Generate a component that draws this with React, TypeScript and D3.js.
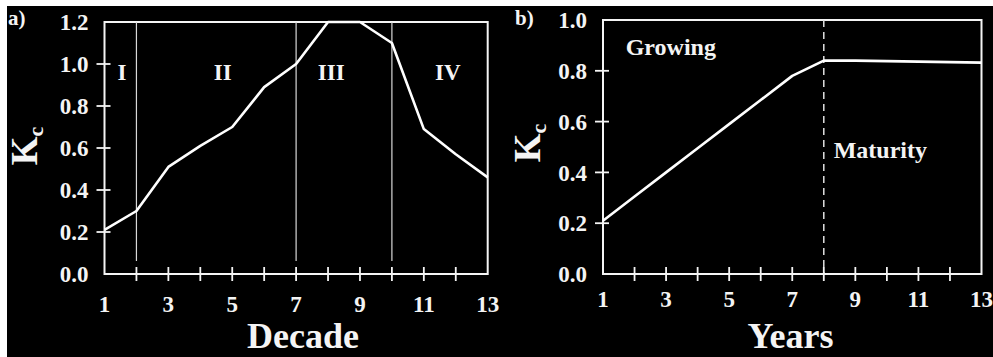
import React from "react";
import * as d3 from "d3";

const decades = [1, 2, 3, 4, 5, 6, 7, 8, 9, 10, 11, 12, 13];
const kcDecade = [0.21, 0.3, 0.51, 0.61, 0.7, 0.89, 1.0, 1.2, 1.2, 1.1, 0.69, 0.57, 0.46];
const stageBounds = [2, 7, 10];
const stageLabels = ["I", "II", "III", "IV"];
const stageLabelPos = [1.55, 4.7, 8.1, 11.75];

const years = [1, 2, 3, 4, 5, 6, 7, 8, 9, 10, 11, 12, 13];
const kcYears = [0.21, 0.305, 0.4, 0.495, 0.59, 0.685, 0.78, 0.84, 0.84, 0.838, 0.836, 0.834, 0.832];
const maturityStart = 8;

const xTickLabels = [1, 3, 5, 7, 9, 11, 13];
const yTicksA = [0, 0.2, 0.4, 0.6, 0.8, 1.0, 1.2];
const yTicksB = [0, 0.2, 0.4, 0.6, 0.8, 1.0];

const FONT = "'Liberation Serif', 'Times New Roman', serif";
const FG = "#f4f4f4";

function Panel({
  xs, ys, xRange, yDomain, yRange, yTicks, xLabel, xLabelPos, kPos, tag, tagPos, xLabelBaseline, children,
}: any) {
  const x = d3.scaleLinear().domain([1, 13]).range(xRange);
  const y = d3.scaleLinear().domain(yDomain).range(yRange);
  const line = d3.line<number>().x((_, i) => x(xs[i])).y((d) => y(d));
  const [x0, x1] = xRange;
  const [yb, yt] = yRange;
  const minorX = d3.range(2, 13);
  return (
    <g>
      <rect x={x0} y={yt} width={x1 - x0} height={yb - yt} fill="none" stroke={FG} strokeWidth={2} />
      {children && children(x, y)}
      {minorX.map((v) => (
        <line key={"xt" + v} x1={x(v)} x2={x(v)} y1={yb - 7} y2={yb + 7} stroke={FG} strokeWidth={1.8} />
      ))}
      {yTicks.filter((v: number) => v > 0 && v < yDomain[1]).map((v: number) => (
        <line key={"yt" + v} x1={x0 - 8} x2={x0 + 6} y1={y(v)} y2={y(v)} stroke={FG} strokeWidth={1.8} />
      ))}
      {yTicks.map((v: number) => (
        <text key={"yl" + v} x={x0 - 16} y={y(v)} dy="0.36em" textAnchor="end" fontFamily={FONT}
          fontWeight="bold" fontSize={23} fill={FG}>{v.toFixed(1)}</text>
      ))}
      {xTickLabels.map((v) => (
        <text key={"xl" + v} x={x(v)} y={xLabelBaseline} textAnchor="middle" fontFamily={FONT}
          fontWeight="bold" fontSize={23} fill={FG}>{v}</text>
      ))}
      <path d={line(ys) || ""} fill="none" stroke="#fff" strokeWidth={2.6} strokeLinejoin="round" />
      <text x={xLabelPos[0]} y={xLabelPos[1]} textAnchor="middle" fontFamily={FONT} fontWeight="bold"
        fontSize={36} fill={FG}>{xLabel}</text>
      <text transform={`translate(${kPos[0]},${kPos[1]}) rotate(-90)`} textAnchor="middle" fontFamily={FONT}
        fontWeight="bold" fontSize={37} fill={FG}>
        K<tspan fontSize={22} dy={6}>c</tspan>
      </text>
      <text x={tagPos[0]} y={tagPos[1]} fontFamily={FONT} fontWeight="bold" fontSize={21} fill={FG}>{tag}</text>
    </g>
  );
}

export default function App() {
  return (
    <svg width={993} height={357} style={{ position: "absolute", left: 0, top: 0 }}>
      <rect x={0} y={0} width={993} height={357} fill="#fff" />
      <rect x={7} y={6} width={986} height={351} fill="#000" />
      <Panel
        xs={decades} ys={kcDecade} xRange={[104.5, 487.7]} yDomain={[0, 1.2]} yRange={[274, 22]}
        yTicks={yTicksA} xLabel="Decade" xLabelPos={[303, 348]} kPos={[37, 146]} tag="a)" tagPos={[8, 25]}
        xLabelBaseline={312}
      >
        {(x: any, y: any) => (
          <g>
            {stageBounds.map((v) => (
              <line key={"sb" + v} x1={x(v)} x2={x(v)} y1={22} y2={261} stroke="#d8d8d8" strokeWidth={1.2} />
            ))}
            {stageLabels.map((s, i) => (
              <text key={s} x={x(stageLabelPos[i])} y={80} textAnchor="middle" fontFamily={FONT}
                fontWeight="bold" fontSize={23} fill={FG}>{s}</text>
            ))}
          </g>
        )}
      </Panel>
      <Panel
        xs={years} ys={kcYears} xRange={[603, 981.5]} yDomain={[0, 1.0]} yRange={[274, 20]}
        yTicks={yTicksB} xLabel="Years" xLabelPos={[790.5, 348]} kPos={[540, 143]} tag="b)" tagPos={[515, 25]}
        xLabelBaseline={307}
      >
        {(x: any, y: any) => (
          <g>
            <line x1={x(maturityStart)} x2={x(maturityStart)} y1={20} y2={274} stroke="#e0e0e0"
              strokeWidth={1.5} strokeDasharray="7,5" />
            <text x={625.7} y={55} fontFamily={FONT} fontWeight="bold" fontSize={24} fill={FG}>Growing</text>
            <text x={833.7} y={158} fontFamily={FONT} fontWeight="bold" fontSize={24} fill={FG}>Maturity</text>
          </g>
        )}
      </Panel>
    </svg>
  );
}
